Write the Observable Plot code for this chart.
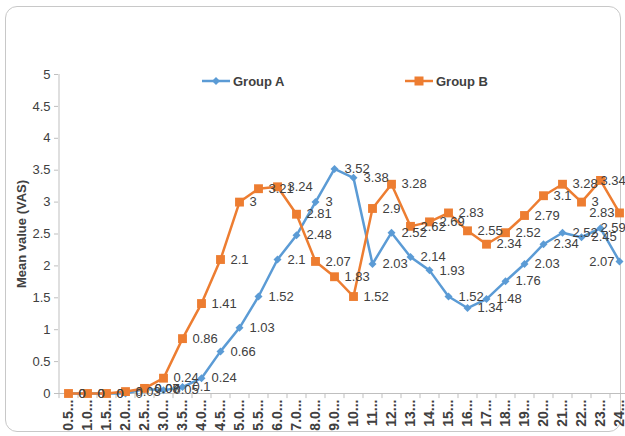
<!DOCTYPE html>
<html>
<head>
<meta charset="utf-8">
<script src="https://cdn.jsdelivr.net/npm/d3@7"></script>
<script src="https://cdn.jsdelivr.net/npm/@observablehq/plot@0.6"></script>
<style>
  body { margin: 0; background: #fff; }
  #wrap { position: relative; width: 625px; height: 436px; overflow: hidden; font-family: "Liberation Sans", Arial, sans-serif; }
  #border { position: absolute; left: 5px; top: 6px; width: 616px; height: 426px; border: 1px solid #c8c8c8; border-radius: 12px; box-sizing: border-box; pointer-events: none; }
  .leg { position: absolute; top: 73px; display: flex; align-items: center; font-size: 13px; font-weight: bold; color: #404040; }
  .leg svg { margin-right: 3px; }
  #chart { position: absolute; left: 0; top: 0; }
</style>
</head>
<body>
<div id="wrap">
  <div id="border"></div>
  <div id="chart"></div>
  <div class="leg" id="legA" style="left:202px"></div>
  <div class="leg" id="legB" style="left:405px"></div>
</div>
<script>
const categories = ["0.5...","1.0...","1.5...","2.0...","2.5...","3.0...","3.5...","4.0...","4.5...","5.0...",
  "5.5...","6.0...","7.0...","8.0...","9.0...","10...","11...","12...","13...","14...",
  "15...","16...","17...","18...","19...","20...","21...","22...","23...","24..."];
const groupA = [0,0,0,0,0.07,0.05,0.1,0.24,0.66,1.03,1.52,2.1,2.48,3,3.52,3.38,2.03,2.52,2.14,1.93,1.52,1.34,1.48,1.76,2.03,2.34,2.52,2.45,2.59,2.07];
const groupB = [0,0,0,0.03,0.08,0.24,0.86,1.41,2.1,3,3.21,3.24,2.81,2.07,1.83,1.52,2.9,3.28,2.62,2.69,2.83,2.55,2.34,2.52,2.79,3.1,3.28,3,3.34,2.83];
const seriesNames = ["Group A", "Group B"];
const yTicks = [0,0.5,1,1.5,2,2.5,3,3.5,4,4.5,5];
const colors = {"Group A": "#5B9BD5", "Group B": "#ED7D31"};

const A = categories.map((c, i) => ({cat: c, v: groupA[i], s: "Group A", i}));
const B = categories.map((c, i) => ({cat: c, v: groupB[i], s: "Group B", i}));
const n = categories.length;
const fmt = v => String(v);
const font = "Liberation Sans, Arial, sans-serif";

function labels(data) {
  const base = {x: "cat", y: "v", text: d => fmt(d.v), fill: "#404040", fontSize: 13};
  return [
    Plot.text(data.filter(d => d.i < n - 2), {...base, dx: 10, textAnchor: "start"}),
    Plot.text(data.filter(d => d.i === n - 2), {...base, dx: 0, textAnchor: "start"}),
    Plot.text(data.filter(d => d.i === n - 1), {...base, dx: -5, textAnchor: "end"})
  ];
}

const chart = Plot.plot({
  width: 625,
  height: 436,
  marginTop: 74,
  marginBottom: 43,
  marginLeft: 58,
  marginRight: 0,
  style: {fontFamily: font, fontSize: "13px", background: "transparent", overflow: "visible"},
  x: {type: "point", domain: categories, range: [68, 619], padding: 0},
  y: {domain: [0, 5], range: [393, 74]},
  marks: [
    Plot.ruleY([0], {stroke: "#bfbfbf", strokeWidth: 1}),
    Plot.ruleX([categories[0]], {dx: -9.5, y1: 0, y2: 5, stroke: "#bfbfbf"}),
    Plot.ruleX(categories, {x: d => d, dx: -9.5, y1: 0, y2: -0.08, stroke: "#bfbfbf"}),
    Plot.ruleX([categories[n - 1]], {dx: 9.5, y1: 0, y2: -0.08, stroke: "#bfbfbf"}),
    Plot.axisY({ticks: yTicks, tickFormat: fmt, tickSize: 4, tickPadding: 4, stroke: "#bfbfbf", fill: "#404040",
      fontSize: 13, label: "Mean value (VAS)", labelAnchor: "center", labelArrow: "none", labelOffset: 42}),
    Plot.axisX({tickSize: 0, tickRotate: -90, tickPadding: 6, fill: "#404040", fontWeight: "bold", fontSize: 14, label: null}),
    Plot.line(A, {x: "cat", y: "v", stroke: colors["Group A"], strokeWidth: 2.5}),
    Plot.dot(A, {x: "cat", y: "v", symbol: "diamond2", fill: colors["Group A"], r: 3.6, stroke: "none"}),
    Plot.line(B, {x: "cat", y: "v", stroke: colors["Group B"], strokeWidth: 2.5}),
    Plot.dot(B, {x: "cat", y: "v", symbol: "square", fill: colors["Group B"], r: 5, stroke: "none"}),
    ...labels(A),
    ...labels(B)
  ]
});
chart.querySelectorAll("text").forEach(t => {
  if (t.textContent === "Mean value (VAS)") { t.setAttribute("font-weight", "bold"); t.setAttribute("fill", "#404040"); }
});
document.getElementById("chart").appendChild(chart);

function legend(id, name, shape) {
  const el = document.getElementById(id);
  const c = colors[name];
  const mk = shape === "diamond"
    ? `<path d="M14,4 L18,8 L14,12 L10,8 Z" fill="${c}"/>`
    : `<rect x="9.5" y="3.5" width="9" height="9" fill="${c}"/>`;
  el.innerHTML = `<svg width="28" height="16"><line x1="0" y1="8" x2="28" y2="8" stroke="${c}" stroke-width="2.5"/>${mk}</svg><span>${name}</span>`;
}
legend("legA", seriesNames[0], "diamond");
legend("legB", seriesNames[1], "square");
</script>
</body>
</html>
